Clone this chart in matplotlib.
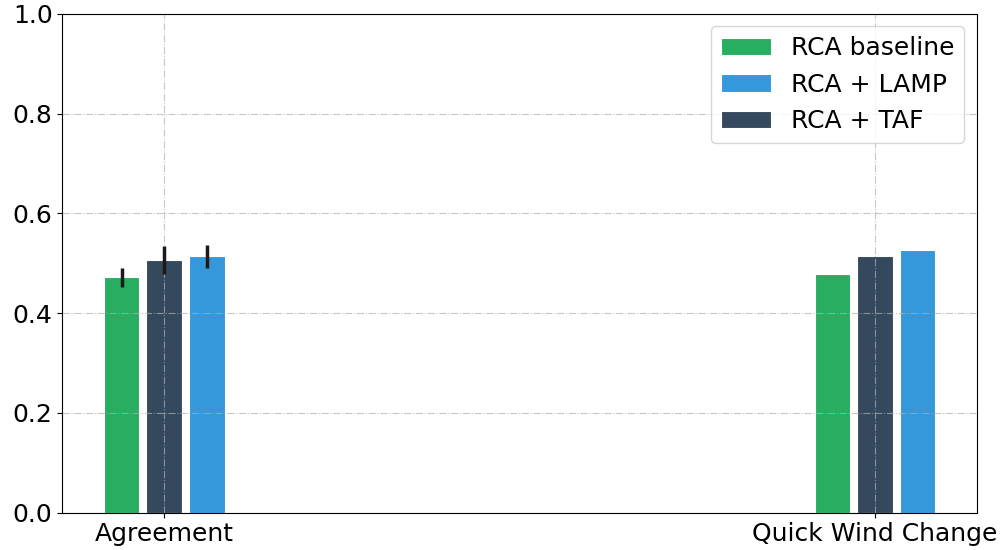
import matplotlib
matplotlib.use("Agg")
import matplotlib.pyplot as plt
import numpy as np

categories = ["Agreement", "Quick Wind Change"]
baseline = [0.472, 0.479]
baseline_err = [0.019, 0.0]
taf = [0.507, 0.514]
taf_err = [0.028, 0.0]
lamp = [0.514, 0.527]
lamp_err = [0.023, 0.0]

fig, ax = plt.subplots(figsize=(10.04, 5.5), dpi=100)
x = np.arange(len(categories))
w = 0.05
off = 0.06
ekw = dict(ecolor="#1a1a1a", elinewidth=2.5, capsize=0)
ax.bar(x - off, baseline, w, yerr=baseline_err, color="#27ae60",
       edgecolor="white", linewidth=0.8, label="RCA baseline", error_kw=ekw)
ax.bar(x + off, lamp, w, yerr=lamp_err, color="#3498db",
       edgecolor="white", linewidth=0.8, label="RCA + LAMP", error_kw=ekw)
ax.bar(x, taf, w, yerr=taf_err, color="#34495e",
       edgecolor="white", linewidth=0.8, label="RCA + TAF", error_kw=ekw)

ax.set_ylim(0, 1.0)
ax.set_xticks(x)
ax.set_xticklabels(categories, fontsize=18)
ax.tick_params(axis="y", labelsize=18)
ax.grid(True, linestyle="-.", color="#b0b0b0", alpha=0.7)
ax.legend(loc="upper right", fontsize=18)
fig.subplots_adjust(left=0.062, right=0.973, top=0.975, bottom=0.068)
fig.savefig("out.png", dpi=100)
